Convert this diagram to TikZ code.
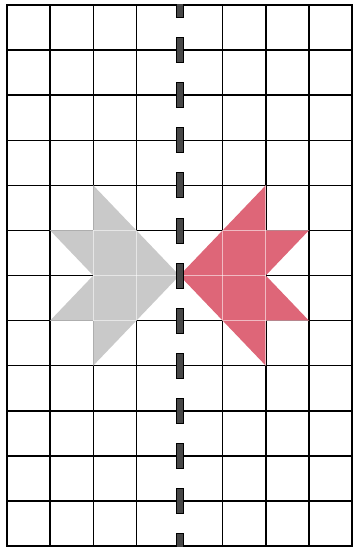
\documentclass[tikz,border=0pt]{standalone}
\usetikzlibrary{calc}
\begin{document}
\begin{tikzpicture}[x=1pt,y=-1pt,
  gridline/.style={line width=1.5pt,black},
  frameline/.style={line width=2.8pt,black},
  dashbar/.style={fill=black!72,draw=black,line width=0.8pt},
  faint/.style={white,line width=0.9pt,opacity=0.55}]
\definecolor{fishred}{RGB}{222,102,120}
\definecolor{fishgray}{RGB}{201,201,201}
\useasboundingbox[fill=white] (0,0) rectangle (359,551);
% grid coordinates
\foreach \i in {0,...,8}{
  \foreach \j in {0,...,12}{
    \coordinate (g-\i-\j) at ({7+43.125*\i},{5+45.0833*\j});
  }}
% grid lines (no solid line on the centre axis)
\foreach \i in {1,2,3,5,6,7}{\draw[gridline] (g-\i-0) -- (g-\i-12);}
\foreach \j in {1,...,11}{\draw[gridline] (g-0-\j) -- (g-8-\j);}
% gray figure
\fill[fishgray] (g-2-4) -- (g-3-5) -- (g-4-6) -- (g-3-7) -- (g-2-8) -- (g-2-7)
  -- (g-1-7) -- (g-2-6) -- (g-1-5) -- (g-2-5) -- cycle;
% red figure (mirror)
\fill[fishred] (g-6-4) -- (g-5-5) -- (g-4-6) -- (g-5-7) -- (g-6-8) -- (g-6-7)
  -- (g-7-7) -- (g-6-6) -- (g-7-5) -- (g-6-5) -- cycle;
% faint grid lines inside the figures
\begin{scope}
  \clip (g-2-4) -- (g-3-5) -- (g-4-6) -- (g-3-7) -- (g-2-8) -- (g-2-7)
  -- (g-1-7) -- (g-2-6) -- (g-1-5) -- (g-2-5) -- cycle;
  \foreach \i in {2,3}{\draw[faint] (g-\i-4) -- (g-\i-8);}
  \foreach \j in {5,6,7}{\draw[faint] (g-1-\j) -- (g-4-\j);}
\end{scope}
\begin{scope}
  \clip (g-6-4) -- (g-5-5) -- (g-4-6) -- (g-5-7) -- (g-6-8) -- (g-6-7)
  -- (g-7-7) -- (g-6-6) -- (g-7-5) -- (g-6-5) -- cycle;
  \foreach \i in {5,6}{\draw[faint] (g-\i-4) -- (g-\i-8);}
  \foreach \j in {5,6,7}{\draw[faint] (g-4-\j) -- (g-7-\j);}
\end{scope}
% outer frame
\draw[frameline] (g-0-0) rectangle (g-8-12);
% dashed centre line
\begin{scope}
  \clip (g-0-0) rectangle (g-8-12);
  \foreach \j in {0,...,12}{
    \draw[dashbar] ($(g-4-\j)+(-3.4,-12.5)$) rectangle ($(g-4-\j)+(3.4,12.5)$);
  }
\end{scope}
\end{tikzpicture}
\end{document}
